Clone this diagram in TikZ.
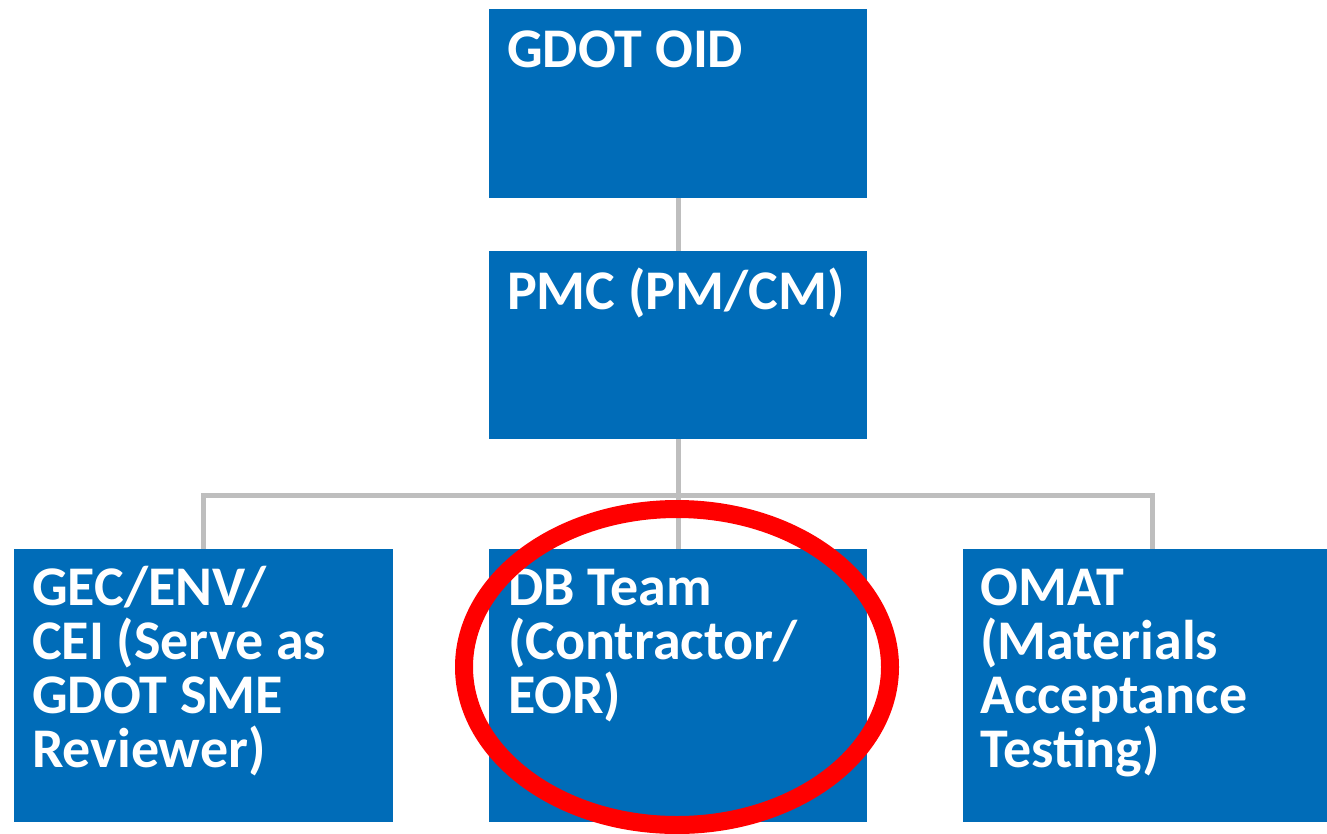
\documentclass[tikz,border=0pt]{standalone}
\usepackage{fontspec}
\setmainfont{Carlito}
\usetikzlibrary{shapes.geometric}
\definecolor{boxblue}{RGB}{0,108,184}
\definecolor{linegray}{RGB}{190,190,190}
\definecolor{markred}{RGB}{255,0,0}
\begin{document}
\begin{tikzpicture}[x=1pt,y=-1pt,
  orgbox/.style={draw=none,fill=boxblue,minimum width=378pt,inner sep=0pt,outer sep=0pt,anchor=north west},
  boxtext/.style={text=white,font=\fontsize{56}{54}\selectfont\bfseries,align=left,anchor=base west,inner sep=0pt},
  link/.style={draw=linegray,line width=5pt}]
\useasboundingbox (0,0) rectangle (1327,833);
\fill[white] (0,0) rectangle (1327,833);
% boxes
\node[orgbox,minimum height=189pt] (oid) at (489,9) {};
\node[orgbox,minimum height=188pt] (pmc) at (489,251) {};
\node[orgbox,minimum height=273pt,minimum width=379pt] (gec) at (14,549) {};
\node[orgbox,minimum height=273pt] (db) at (489,549) {};
\node[orgbox,minimum height=273pt] (omat) at (963,549) {};
\coordinate (bus) at (678,495);
% connectors
\draw[link] (oid.south) -- (pmc.north);
\draw[link] (pmc.south) -- (db.north);
\draw[link] (gec.north) |- (bus) -| (omat.north);
% redraw boxes over line ends
\fill[boxblue] (oid.south west) rectangle (oid.north east);
\fill[boxblue] (pmc.south west) rectangle (pmc.north east);
\fill[boxblue] (gec.south west) rectangle (gec.north east);
\fill[boxblue] (db.south west) rectangle (db.north east);
\fill[boxblue] (omat.south west) rectangle (omat.north east);
% texts (anchor base = baseline of last line)
\node[boxtext] (toid) at (507,67) {GDOT OID};
\node[boxtext] (tpmc) at (507,309) {PMC (PM/CM)};
\node[boxtext] (tgec) at (32,767) {GEC/ENV/\\CEI (Serve as\\GDOT SME\\Reviewer)};
\node[boxtext] (tdb) at (508,713) {DB Team\\(Contractor/\\EOR)};
\node[boxtext] (tomat) at (980,767) {OMAT\\(Materials\\Acceptance\\Testing)};
% highlight
\node[draw=markred,line width=18pt,ellipse,minimum width=426pt,minimum height=316pt,inner sep=0pt] (mark) at (677,667) {};
\end{tikzpicture}
\end{document}
